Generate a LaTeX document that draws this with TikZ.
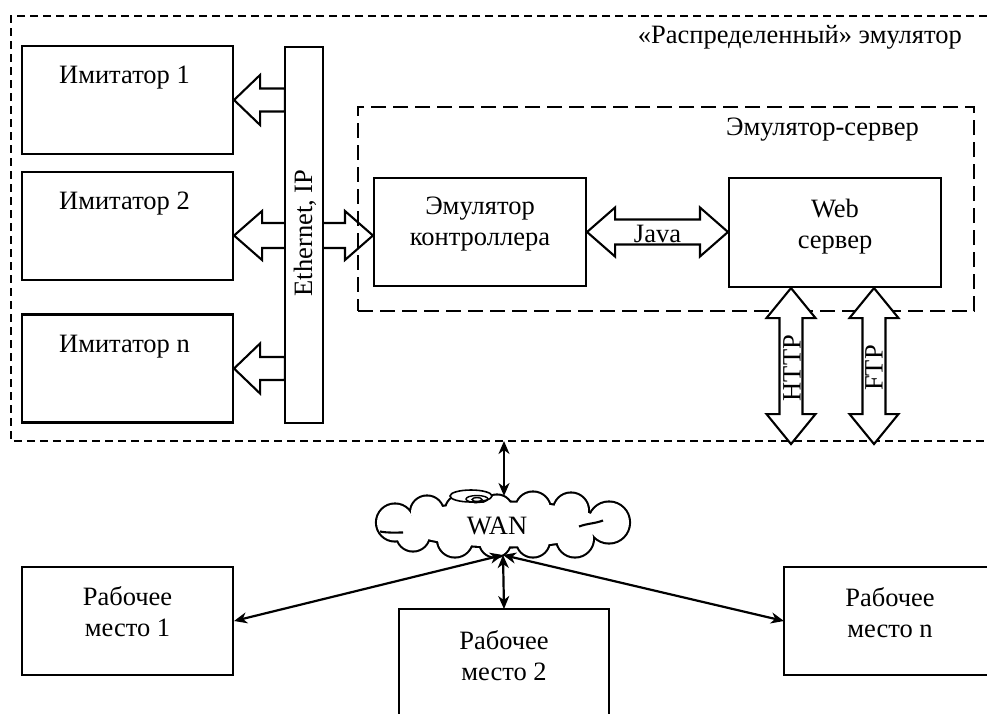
\documentclass[tikz,border=0pt]{standalone}
\usepackage{fontspec}
\setmainfont{Liberation Serif}
\usetikzlibrary{arrows.meta,calc,backgrounds}

% block arrows
\newcommand\blkL[2]{\path[blk] let \p1=#1, \p2=#2 in (\x1,\y1) -- (\x1+26pt,\y1+25pt) -- (\x1+26pt,\y1+11.5pt) -- (\x2,\y1+11.5pt) -- (\x2,\y1-11.5pt) -- (\x1+26pt,\y1-11.5pt) -- (\x1+26pt,\y1-25pt) -- cycle;}
\newcommand\blkLR[2]{\path[blk] let \p1=#1, \p2=#2 in (\x1,\y1) -- (\x1+28pt,\y1+24.5pt) -- (\x1+28pt,\y1+12.5pt) -- (\x2-28pt,\y1+12.5pt) -- (\x2-28pt,\y1+24.5pt) -- (\x2,\y1) -- (\x2-28pt,\y1-24.5pt) -- (\x2-28pt,\y1-12.5pt) -- (\x1+28pt,\y1-12.5pt) -- (\x1+28pt,\y1-24.5pt) -- cycle;}
\newcommand\blkUD[2]{\path[blk] let \p1=#1, \p2=#2 in (\x1,\y1) -- (\x1+24.5pt,\y1-30pt) -- (\x1+11.5pt,\y1-30pt) -- (\x1+11.5pt,\y2+30pt) -- (\x1+24.5pt,\y2+30pt) -- (\x1,\y2) -- (\x1-24.5pt,\y2+30pt) -- (\x1-11.5pt,\y2+30pt) -- (\x1-11.5pt,\y1-30pt) -- (\x1-24.5pt,\y1-30pt) -- cycle;}

\begin{document}
\begin{tikzpicture}[x=1pt,y=-1pt,
  lw/.style={line width=2.1pt},
  box/.style={draw, lw, rectangle, inner sep=0pt, minimum width=211pt, minimum height=108pt},
  ghost/.style={rectangle, inner sep=0pt, outer sep=0pt},
  lbl/.style={font=\fontsize{26.5}{31}\selectfont, align=center, inner sep=0pt},
  blk/.style={draw, fill=white, lw, line join=miter},
  odash/.style={lw, dash pattern=on 8pt off 5pt},
  sdash/.style={draw, lw, dash pattern=on 15pt off 7pt},
  link/.style={line width=2.2pt, {Stealth[length=13pt,width=11pt,inset=4pt]}-{Stealth[length=13pt,width=11pt,inset=4pt]}},
]
\useasboundingbox (0,0) rectangle (987,713);

% outer "distributed emulator" frame (right side beyond the picture)
\node[ghost, minimum width=976pt, minimum height=425pt] (outer) at (499,228.5) {};
\draw[odash] (outer.north east) -- (outer.north west) -- (outer.south west) -- (outer.south east);
\node[lbl, anchor=base east] (outerlbl) at (962,43) {«Распределенный» эмулятор};

% emulator-server frame
\node[sdash, rectangle, inner sep=0pt, minimum width=616pt, minimum height=204pt] (srv) at (666,209) {};
\node[lbl, anchor=base east] (srvlbl) at ($(srv.north east)+(-56,30)$) {Эмулятор-сервер};

% imitators
\node[box] (im1) at (127.5,100) {};
\node[box] (im2) at (127.5,226) {};
\node[box] (imn) at (127.5,368.5) {};
\node[lbl, anchor=north] at ($(im1.north)+(-3,21)$) {Имитатор 1};
\node[lbl, anchor=north] at ($(im2.north)+(-3,21)$) {Имитатор 2};
\node[lbl, anchor=north] at ($(imn.north)+(-3,21)$) {Имитатор n};

% controller emulator and web server
\node[box, minimum width=212pt] (ctrl) at (480,232) {};
\node[box, minimum width=212pt, minimum height=109pt] (web) at (835,232.5) {};
\node[lbl, anchor=north] at ($(ctrl.north)+(0,19.5)$) {Эмулятор\\контроллера};
\node[lbl, anchor=north] at ($(web.north)+(0,21.5)$) {Web\\сервер};

% Ethernet bar (position)
\node[ghost, minimum width=38pt, minimum height=376pt] (eth) at (304,235) {};

% block arrows under the bar
\begin{scope}[on background layer]
\blkL{(im1.east)}{(eth.west)}
\blkLR{($(im2.east)+(0,9.5)$)}{($(ctrl.west)+(0,3.5)$)}
\blkL{(imn.east)}{(eth.west)}
\end{scope}

\draw[lw, fill=white] (eth.north west) rectangle (eth.south east);
\node[lbl, rotate=90] (ethlbl) at ($(eth.center)+(1,-2)$) {Ethernet, IP};

% Java
\blkLR{(ctrl.east)}{(web.west)}
\node[lbl, anchor=base] (java) at ($(ctrl.east)!0.5!(web.west)+(0,10)$) {Java};

% HTTP / FTP
\coordinate (h1) at ($(web.south)+(-44,0)$);
\coordinate (h2) at ($(h1)+(0,156)$);
\coordinate (f1) at ($(web.south)+(39,0)$);
\coordinate (f2) at ($(f1)+(0,156)$);
\blkUD{(h1)}{(h2)}
\blkUD{(f1)}{(f2)}
\node[lbl, rotate=90] at ($(h1)!0.5!(h2)+(1,2)$) {HTTP};
\node[lbl, rotate=90] at ($(f1)!0.5!(f2)+(0,2)$) {FTP};

% WAN cloud (union of puffs)
\node[ghost, minimum width=250pt, minimum height=65pt] (cloud) at (503,524.5) {};
\begin{scope}[shift={(cloud.center)}, y=1pt]
  \def\puffs{-108/2/18, -90/-10/16, -48/-15/17, -8/-17/15, 30/-16/16, 72/-14/18, 106/2/20, 68/14/17, 30/15/17, -6/14/15, -42/14/15, -76/12/16}
  \foreach \cx/\cy/\r in \puffs { \draw[line width=4.2pt] (\cx,\cy) circle[radius=\r]; }
  \draw[line width=4.2pt] (0,0) ellipse[x radius=100, y radius=22];
  \foreach \cx/\cy/\r in \puffs { \fill[white] (\cx,\cy) circle[radius=\r]; }
  \fill[white] (0,0) ellipse[x radius=100, y radius=22];
  \draw[lw] (-123,-7) to[out=-10,in=180] (-100,-8);
  \draw[lw] (76,-2) to[out=20,in=200] (100,4);
\end{scope}
\node[lbl] (wan) at ($(cloud.center)+(-6,1.5)$) {WAN};
\draw[line width=1.6pt, fill=white] ($(cloud.north)+(-32,4)$) ellipse [x radius=21pt, y radius=6pt];
\draw[line width=1.4pt] ($(cloud.north)+(-26,7)$) ellipse [x radius=11pt, y radius=3.5pt];
\draw[line width=1.4pt] ($(cloud.north)+(-26,7.5)$) ellipse [x radius=5pt, y radius=2pt];
\coordinate (hub) at ($(cloud.south)+(0,-2)$);

% workplaces
\node[box] (ws1) at (127.5,621) {};
\node[lbl, anchor=north] at ($(ws1.north)+(0,20)$) {Рабочее\\место 1};
\node[ghost, minimum width=210pt, minimum height=106pt] (ws2) at (504,662) {};
\draw[lw] (ws2.south west) -- (ws2.north west) -- (ws2.north east) -- (ws2.south east);
\node[lbl, anchor=north] at ($(ws2.north)+(0,21)$) {Рабочее\\место 2};
\node[ghost, minimum width=203pt, minimum height=108pt] (wsn) at (885.5,621) {};
\draw[lw] (wsn.north east) -- (wsn.north west) -- (wsn.south west) -- (wsn.south east);
\node[lbl, anchor=north] at ($(wsn.north west)+(106,20)$) {Рабочее\\место n};

% links
\draw[link] (outer.south -| ws2.north) -- ($(ws2.north |- cloud.north)+(0,4)$);
\draw[link] (hub) -- (ws1.east);
\draw[link] (hub) -- (ws2.north);
\draw[link] (hub) -- (wsn.west);
\end{tikzpicture}
\end{document}
